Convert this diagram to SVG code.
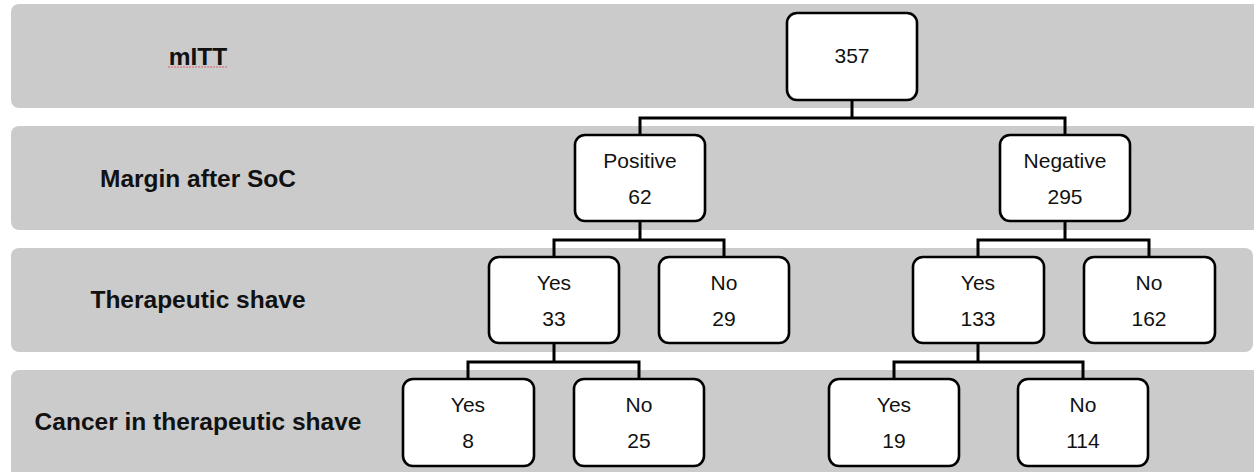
<svg xmlns="http://www.w3.org/2000/svg" width="1254" height="472" viewBox="0 0 1254 472">
<style>
.band{fill:#cbcbcb}
.lbl{font-family:"Liberation Sans",Arial,sans-serif;font-weight:bold;font-size:24.5px;fill:#111;text-anchor:middle}
.box{fill:#fff;stroke:#000;stroke-width:2.6}
.t{font-family:"Liberation Sans",Arial,sans-serif;font-size:21px;fill:#111;text-anchor:middle}
.con{fill:none;stroke:#000;stroke-width:3}
</style>
<rect width="1254" height="472" fill="#fff"/>
<g id="bands">
<rect class="band" x="11" y="4" width="1252" height="104" rx="8"/>
<rect class="band" x="11" y="126" width="1252" height="104" rx="8"/>
<rect class="band" x="11" y="248" width="1242" height="104" rx="8"/>
<rect class="band" x="11" y="370" width="1252" height="112" rx="8"/>
</g>
<g id="labels">
<text class="lbl" x="198" y="65">mITT</text>
<line x1="168" y1="67" x2="228" y2="67" stroke="#e06070" stroke-width="1.2" stroke-dasharray="2,1"/>
<text class="lbl" x="198" y="187">Margin after SoC</text>
<text class="lbl" x="198" y="308">Therapeutic shave</text>
<text class="lbl" x="198" y="430">Cancer in therapeutic shave</text>
</g>
<g id="connectors">
<path class="con" d="M852 100V118M640 135V118H1065V135"/>
<path class="con" d="M640 221V240M554 257V240H724V257"/>
<path class="con" d="M1065 221V240M978 257V240H1149V257"/>
<path class="con" d="M554 343V362M468 379V362H639V379"/>
<path class="con" d="M978 343V362M894 379V362H1083V379"/>
</g>
<g id="n357"><rect class="box" x="787" y="13" width="130" height="87" rx="10"/><text class="t" x="852" y="63">357</text></g>
<g id="positive"><rect class="box" x="575" y="135" width="130" height="86" rx="10"/><text class="t" x="640" y="168">Positive</text><text class="t" x="640" y="204">62</text></g>
<g id="negative"><rect class="box" x="1000" y="135" width="130" height="86" rx="10"/><text class="t" x="1065" y="168">Negative</text><text class="t" x="1065" y="204">295</text></g>
<g id="yes33"><rect class="box" x="489" y="257" width="130" height="86" rx="10"/><text class="t" x="554" y="290">Yes</text><text class="t" x="554" y="326">33</text></g>
<g id="no29"><rect class="box" x="659" y="257" width="130" height="86" rx="10"/><text class="t" x="724" y="290">No</text><text class="t" x="724" y="326">29</text></g>
<g id="yes133"><rect class="box" x="913" y="257" width="131" height="86" rx="10"/><text class="t" x="978" y="290">Yes</text><text class="t" x="978" y="326">133</text></g>
<g id="no162"><rect class="box" x="1084" y="257" width="131" height="86" rx="10"/><text class="t" x="1149" y="290">No</text><text class="t" x="1149" y="326">162</text></g>
<g id="yes8"><rect class="box" x="403" y="379" width="131" height="87" rx="10"/><text class="t" x="468" y="412">Yes</text><text class="t" x="468" y="448">8</text></g>
<g id="no25"><rect class="box" x="574" y="379" width="130" height="87" rx="10"/><text class="t" x="639" y="412">No</text><text class="t" x="639" y="448">25</text></g>
<g id="yes19"><rect class="box" x="829" y="379" width="130" height="87" rx="10"/><text class="t" x="894" y="412">Yes</text><text class="t" x="894" y="448">19</text></g>
<g id="no114"><rect class="box" x="1018" y="379" width="130" height="87" rx="10"/><text class="t" x="1083" y="412">No</text><text class="t" x="1083" y="448">114</text></g>
</svg>
